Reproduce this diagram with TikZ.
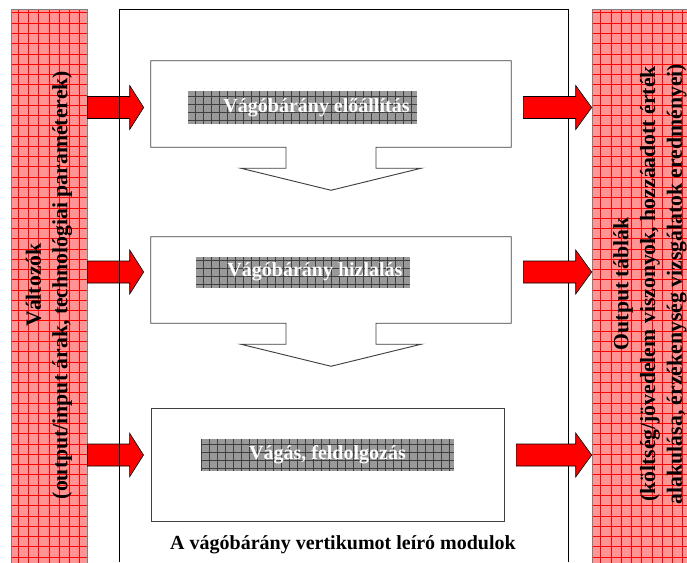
\documentclass[tikz,border=0pt]{standalone}
\usepackage{fontspec}
\setmainfont{Liberation Serif}
\usepackage{xcolor}
\usepackage{tikz}
\usetikzlibrary{arrows, arrows.meta}
\usetikzlibrary{positioning}
\usetikzlibrary{calc}

% thick red block arrow between two points on one row
\newcommand{\blockarrow}[3]{%
	\draw[bigarrow] ($(#1)+(0,-11)$) -- ($(#2)+(-#3,-11)$) -- ($(#2)+(-#3,-22)$) -- (#2) -- ($(#2)+(-#3,22)$) -- ($(#2)+(-#3,11)$) -- ($(#1)+(0,11)$) -- cycle;
}
% module box with the downward arrow under it
\newcommand{\modarrow}[1]{%
	\draw[modline] (#1.south west) -- (#1.north west) -- (#1.north east) -- (#1.south east) -- ($(#1.south)+(45,0)$) -- ++(0,21) -- ++(45,0) -- ($(#1.south)+(0,43)$) -- ++(-90,-22) -- ++(45,0) -- ($(#1.south)+(-45,0)$) -- cycle;
}

\begin{document}
\begin{tikzpicture}[x=0.75pt, y=-0.75pt,
	sidebar/.style={draw=gray, fill=red!42, minimum width=#1, minimum height=421.5pt, inner sep=0pt,
		path picture={\draw[red, line width=0.5pt, step=7.7pt] (path picture bounding box.south west) grid (path picture bounding box.north east);}},
	sidetext/.style={rotate=90, align=center, font=\bfseries\fontsize{16.3}{20}\selectfont},
	module/.style={minimum width=270pt, minimum height=64.5pt, inner sep=0pt},
	modline/.style={draw=black!75, line width=0.7pt, fill=white},
	textbar/.style={fill=black!40, text=white, font=\bfseries\fontsize{15}{17}\selectfont, inner sep=0pt,
		path picture={\draw[black!75, line width=0.45pt, step=6pt] (path picture bounding box.south west) grid (path picture bounding box.north east);}},
	bigarrow/.style={fill=red, draw=black, line width=0.4pt},
	frameline/.style={draw=black, line width=0.6pt}]
	\useasboundingbox (0,0) rectangle (687,562);
	\clip (0,0) rectangle (687,562);

	% side bars
	\node[sidebar=57pt] (inputs) at (49,290) {};
	\node[sidebar=90pt] (outputs) at (652,290) {};
	\node[sidetext] (intext) at (49,285) {Változók\\(output/input árak, technológiai paraméterek)};
	\node[sidetext] (outtext) at (650,284) {Output táblák\\(költség/jövedelem viszonyok, hozzáadott érték\\alakulása, érzékenység vizsgálatok eredményei)};

	% modules
	\node[module] (box1) at (331,104) {};
	\node[module] (box2) at (331,280) {};
	\node[module, draw=black!75, line width=0.7pt, minimum width=264.75pt, minimum height=84.75pt] (box3) at (327.5,464.5) {};
	\modarrow{box1}
	\modarrow{box2}

	\node[textbar, minimum width=171.75pt, minimum height=24.75pt] (tb1) at (302.5,107.5) {\hspace*{21pt}Vágóbárány előállítás};
	\node[textbar, minimum width=160.5pt, minimum height=23.25pt] (tb2) at (303,272) {\hspace*{18pt}Vágóbárány hizlalás};
	\node[textbar, minimum width=189.75pt, minimum height=24pt] (tb3) at (327.5,455) {Vágás, feldolgozás};

	% inputs -> modules
	\foreach \i in {1,2,3} {
		\coordinate (src\i) at (inputs.east |- tb\i);
		\coordinate (in\i) at ($(box\i.west |- tb\i)+(-7,0)$);
		\blockarrow{src\i}{in\i}{14}
	}

	\draw[frameline] (119,562) -- (119,9) -- (568,9) -- (568,562);
	\node[font=\bfseries\fontsize{15}{18}\selectfont] (caption) at (343,545) {A vágóbárány vertikumot leíró modulok};

	% modules -> outputs
	\foreach \i in {1,2,3} {
		\coordinate (out\i) at ($(box\i.east |- tb\i)+(12,0)$);
		\coordinate (dst\i) at (outputs.west |- tb\i);
		\blockarrow{out\i}{dst\i}{16}
	}
\end{tikzpicture}
\end{document}
